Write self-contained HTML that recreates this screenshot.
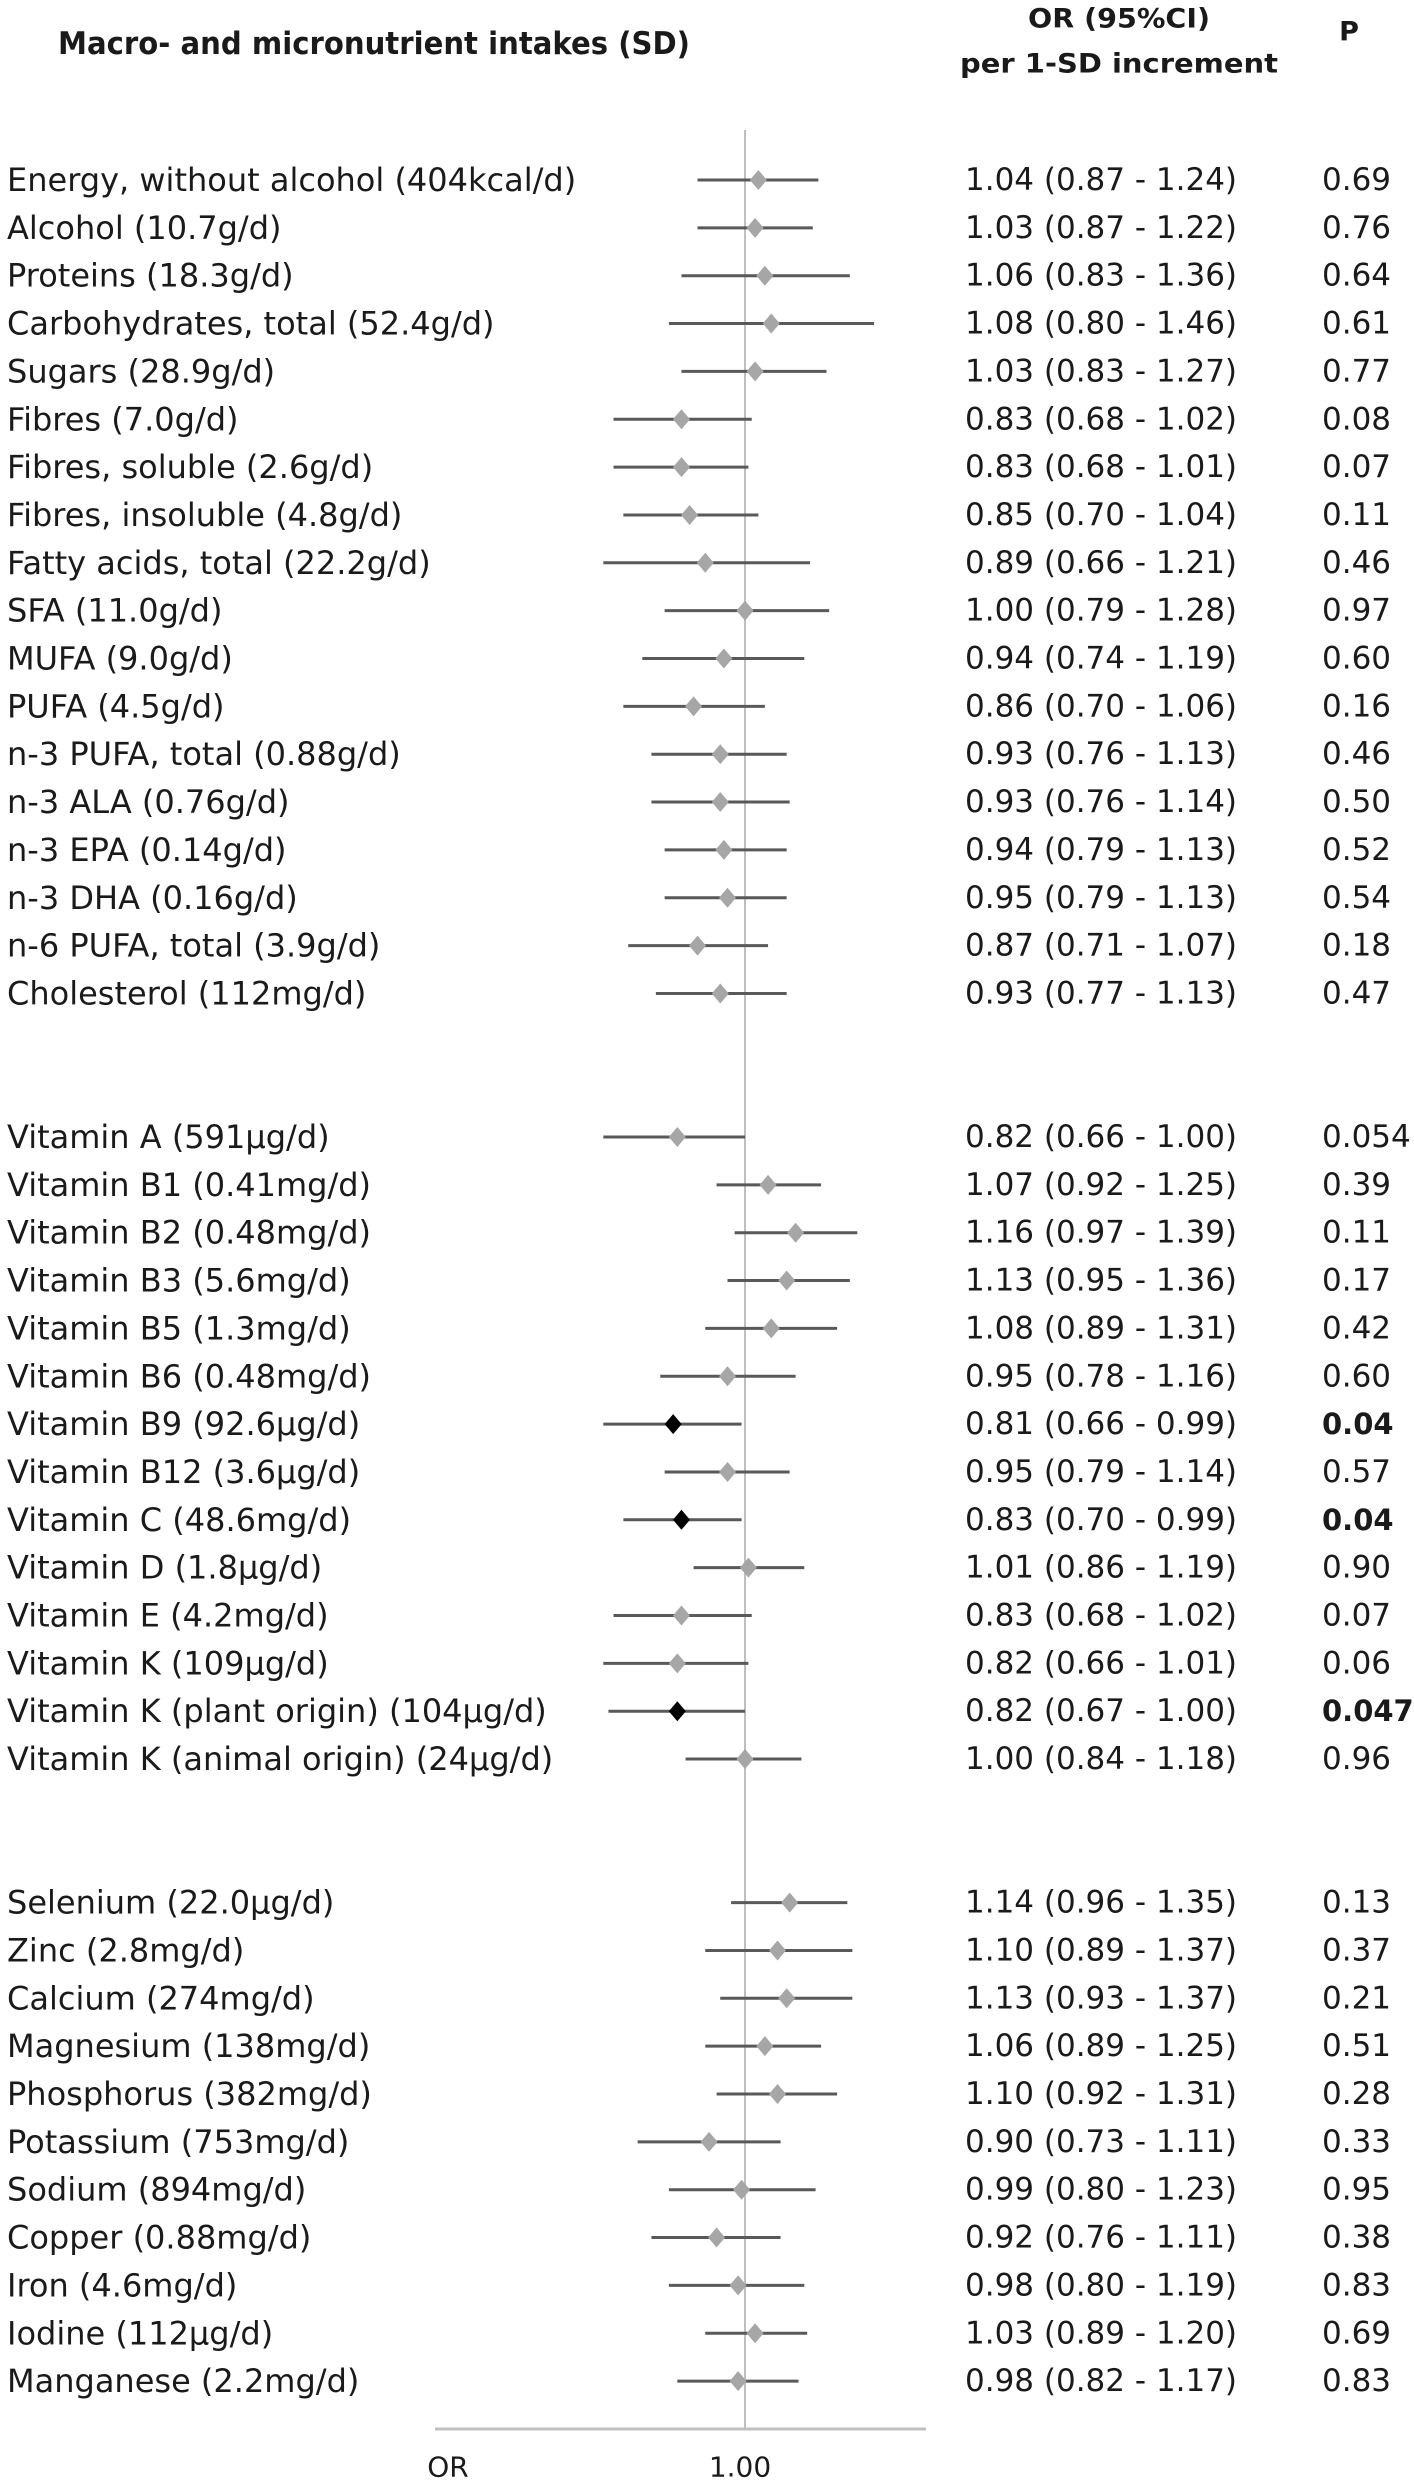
<!DOCTYPE html>
<html><head><meta charset="utf-8"><style>
html,body{margin:0;padding:0;background:#fff;}
svg{display:block;}
text{font-family:"DejaVu Sans","Liberation Sans",sans-serif;fill:#1a1a1a;}
</style></head><body>
<svg id="chart" width="1414" height="2481" viewBox="0 0 1414 2481" xmlns="http://www.w3.org/2000/svg">
<text x="58" y="44" font-size="31" font-weight="bold" dominant-baseline="central" textLength="632" lengthAdjust="spacingAndGlyphs">Macro- and micronutrient intakes (SD)</text>
<text x="1028" y="19" font-size="27" font-weight="bold" dominant-baseline="central" textLength="182" lengthAdjust="spacingAndGlyphs">OR (95%CI)</text>
<text x="960" y="64" font-size="27" font-weight="bold" dominant-baseline="central" textLength="318" lengthAdjust="spacingAndGlyphs">per 1-SD increment</text>
<text x="1349" y="32" font-size="27" font-weight="bold" text-anchor="middle" dominant-baseline="central">P</text>
<g id="marks"></g>
</svg>
<script>
const labels = ["Energy, without alcohol (404kcal/d)","Alcohol (10.7g/d)","Proteins (18.3g/d)","Carbohydrates, total (52.4g/d)","Sugars (28.9g/d)","Fibres (7.0g/d)","Fibres, soluble (2.6g/d)","Fibres, insoluble (4.8g/d)","Fatty acids, total (22.2g/d)","SFA (11.0g/d)","MUFA (9.0g/d)","PUFA (4.5g/d)","n-3 PUFA, total (0.88g/d)","n-3 ALA (0.76g/d)","n-3 EPA (0.14g/d)","n-3 DHA (0.16g/d)","n-6 PUFA, total (3.9g/d)","Cholesterol (112mg/d)",
null,null,
"Vitamin A (591µg/d)","Vitamin B1 (0.41mg/d)","Vitamin B2 (0.48mg/d)","Vitamin B3 (5.6mg/d)","Vitamin B5 (1.3mg/d)","Vitamin B6 (0.48mg/d)","Vitamin B9 (92.6µg/d)","Vitamin B12 (3.6µg/d)","Vitamin C (48.6mg/d)","Vitamin D (1.8µg/d)","Vitamin E (4.2mg/d)","Vitamin K (109µg/d)","Vitamin K (plant origin) (104µg/d)","Vitamin K (animal origin) (24µg/d)",
null,null,
"Selenium (22.0µg/d)","Zinc (2.8mg/d)","Calcium (274mg/d)","Magnesium (138mg/d)","Phosphorus (382mg/d)","Potassium (753mg/d)","Sodium (894mg/d)","Copper (0.88mg/d)","Iron (4.6mg/d)","Iodine (112µg/d)","Manganese (2.2mg/d)"];
const orValues = [1.04,1.03,1.06,1.08,1.03,0.83,0.83,0.85,0.89,1.00,0.94,0.86,0.93,0.93,0.94,0.95,0.87,0.93,null,null,
0.82,1.07,1.16,1.13,1.08,0.95,0.81,0.95,0.83,1.01,0.83,0.82,0.82,1.00,null,null,
1.14,1.10,1.13,1.06,1.10,0.90,0.99,0.92,0.98,1.03,0.98];
const lowerCI = [0.87,0.87,0.83,0.80,0.83,0.68,0.68,0.70,0.66,0.79,0.74,0.70,0.76,0.76,0.79,0.79,0.71,0.77,null,null,
0.66,0.92,0.97,0.95,0.89,0.78,0.66,0.79,0.70,0.86,0.68,0.66,0.67,0.84,null,null,
0.96,0.89,0.93,0.89,0.92,0.73,0.80,0.76,0.80,0.89,0.82];
const upperCI = [1.24,1.22,1.36,1.46,1.27,1.02,1.01,1.04,1.21,1.28,1.19,1.06,1.13,1.14,1.13,1.13,1.07,1.13,null,null,
1.00,1.25,1.39,1.36,1.31,1.16,0.99,1.14,0.99,1.19,1.02,1.01,1.00,1.18,null,null,
1.35,1.37,1.37,1.25,1.31,1.11,1.23,1.11,1.19,1.20,1.17];
const pValues = ["0.69","0.76","0.64","0.61","0.77","0.08","0.07","0.11","0.46","0.97","0.60","0.16","0.46","0.50","0.52","0.54","0.18","0.47",null,null,
"0.054","0.39","0.11","0.17","0.42","0.60","0.04","0.57","0.04","0.90","0.07","0.06","0.047","0.96",null,null,
"0.13","0.37","0.21","0.51","0.28","0.33","0.95","0.38","0.83","0.69","0.83"];
const significant = [0,0,0,0,0,0,0,0,0,0,0,0,0,0,0,0,0,0,0,0, 0,0,0,0,0,0,1,0,1,0,0,0,1,0,0,0, 0,0,0,0,0,0,0,0,0,0,0];

const NS='http://www.w3.org/2000/svg';
const g=document.getElementById('marks');
const x0=745, pxPerLn=341;
const xScale=v=>x0+pxPerLn*Math.log(v);
const yScale=i=>180+47.85*i;
function mk(tag,attrs){const e=document.createElementNS(NS,tag);for(const k in attrs)e.setAttribute(k,attrs[k]);g.appendChild(e);return e;}

const refLine=mk('line',{x1:xScale(1),x2:xScale(1),y1:130,y2:2429,stroke:'#bfbfbf','stroke-width':2});


const axis=mk('line',{x1:435,x2:926,y1:2429,y2:2429,stroke:'#bfbfbf','stroke-width':3});


const axOR=mk('text',{x:448,y:2467,'font-size':28,'text-anchor':'middle','dominant-baseline':'central',fill:'#8c8c8c'});
axOR.textContent='OR';


const axTick=mk('text',{x:xScale(1)-5,y:2467,'font-size':28,'text-anchor':'middle','dominant-baseline':'central',fill:'#8c8c8c'});
axTick.textContent='1.00';



labels.forEach((lab,i)=>{
  if(lab===null) return;
  const y=yScale(i);
  const t=mk('text',{x:7,y:y,'font-size':32,'dominant-baseline':'central'});
  t.textContent=lab;
  
  
  const ci=mk('line',{x1:xScale(lowerCI[i]),x2:xScale(upperCI[i]),y1:y,y2:y,stroke:'#595959','stroke-width':3});
  
  
  const cx=xScale(orValues[i]);
  const d=mk('polygon',{points:`${cx},${y-10} ${cx+8.5},${y} ${cx},${y+10} ${cx-8.5},${y}`,fill:significant[i]?'#000':'#a6a6a6'});
  
  
  const o=mk('text',{x:965,y:y,'font-size':31,'dominant-baseline':'central'});
  o.textContent=orValues[i].toFixed(2)+' ('+lowerCI[i].toFixed(2)+' - '+upperCI[i].toFixed(2)+')';
  
  
  const p=mk('text',{x:1322,y:y,'font-size':significant[i]?29:31,'dominant-baseline':'central'});
  if(significant[i]) p.setAttribute('font-weight','bold');
  p.textContent=pValues[i];
  
  
});
</script>
</body></html>
